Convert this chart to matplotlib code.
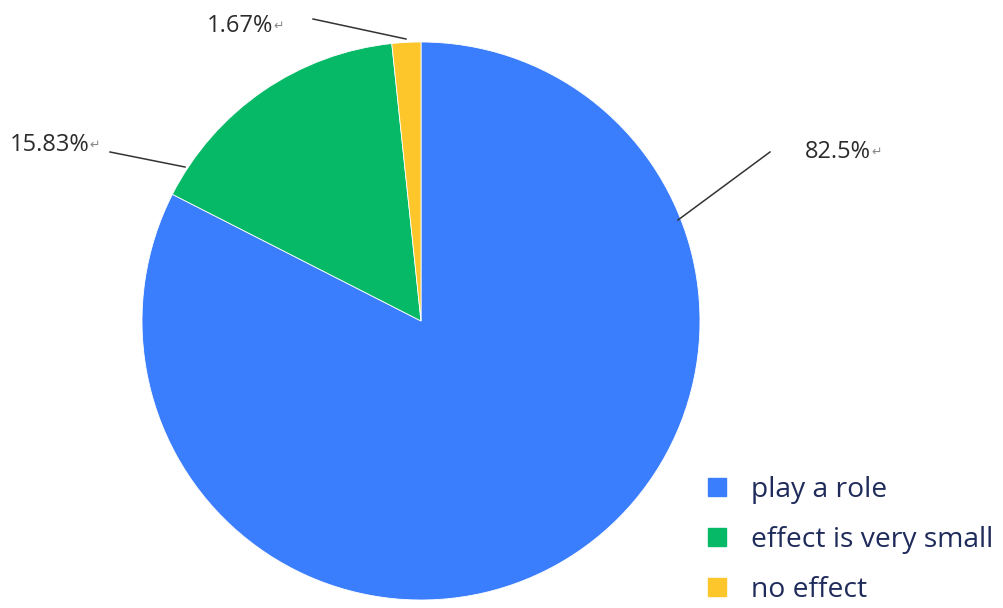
import matplotlib.pyplot as plt
from matplotlib.lines import Line2D

# data
categories = ['play a role', 'effect is very small', 'no effect']
shares = [82.5, 15.83, 1.67]
share_labels = ['82.5%', '15.83%', '1.67%']
colors = ['#3a7dfd', '#05b966', '#fdc62a']

W, H = 1004, 608
fig = plt.figure(figsize=(W / 100, H / 100), dpi=100)
ax = fig.add_axes([0, 0, 1, 1])

# pie, drawn in pixel-like data coords (y up)
cx, cy, r = 421, H - 321, 279
ax.pie(shares, colors=colors, startangle=90, counterclock=False,
       center=(cx, cy), radius=r,
       wedgeprops=dict(edgecolor='white', linewidth=0.6))
ax.set_xlim(0, W)
ax.set_ylim(0, H)
ax.set_aspect('equal')
ax.axis('off')

# leader lines and labels (layout positions)
leaders = [((678, H - 220), (770, H - 152)),
           ((185, H - 167), (110, H - 152)),
           ((406, H - 39), (313, H - 19))]
text_pos = [(805, H - 152, 'left'), (10, H - 145, 'left'), (207, H - 26, 'left')]

lab_font = dict(family='Open Sans', size=17, color='#2b2b2b')
for (p0, p1), (tx, ty, ha), lab in zip(leaders, text_pos, share_labels):
    ax.plot([p0[0], p1[0]], [p0[1], p1[1]], color='#333333', lw=1.1)
    t = ax.text(tx, ty, lab, ha=ha, va='center', **lab_font)
    # word paragraph mark next to each label
    ax.annotate('\u21b5', xy=(1, 0.5), xycoords=t, va='center', ha='left',
                fontsize=9, color='#888888')

handles = [Line2D([], [], marker='s', linestyle='', markersize=13.5,
                  color=c) for c in colors]
leg = ax.legend(handles, categories, loc='upper left',
                bbox_to_anchor=(700 / W, 1 - 476 / H),
                frameon=False, prop=dict(family='Open Sans', size=20.3),
                labelspacing=0.78, handletextpad=0.6, handlelength=1.2,
                borderaxespad=0, borderpad=0)
for txt in leg.get_texts():
    txt.set_color('#1f2b5a')

fig.savefig('out.png', dpi=100)
